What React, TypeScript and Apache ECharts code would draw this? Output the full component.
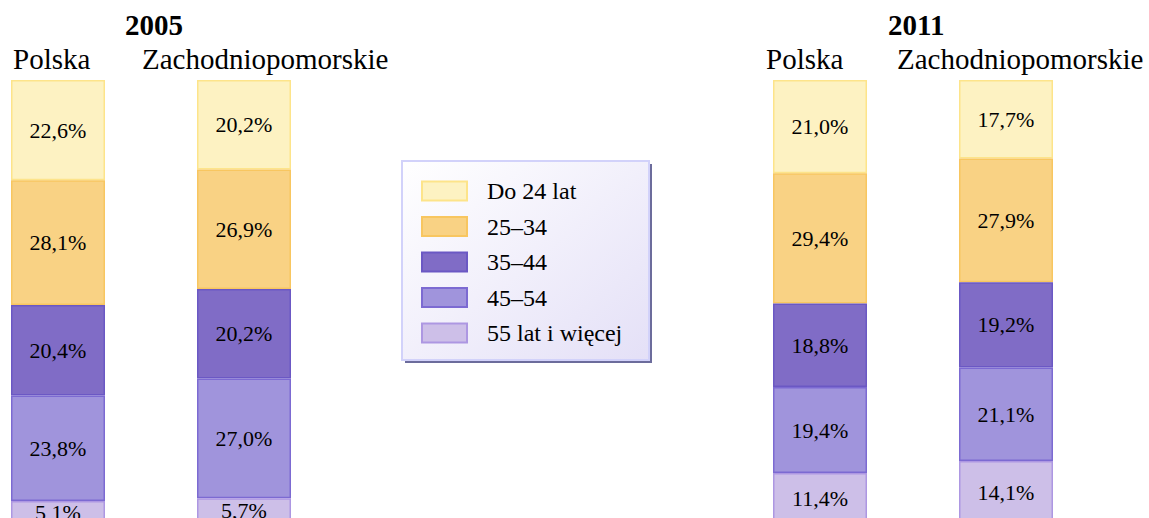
import React, { useEffect, useRef } from "react";
import * as echarts from "echarts";

const groups = ["Do 24 lat", "25–34", "35–44", "45–54", "55 lat i więcej"];
const years = ["2005", "2011"];
const regions = ["Polska", "Zachodniopomorskie"];
const polska2005 = [22.6, 28.1, 20.4, 23.8, 5.1];
const zach2005 = [20.2, 26.9, 20.2, 27.0, 5.7];
const polska2011 = [21.0, 29.4, 18.8, 19.4, 11.4];
const zach2011 = [17.7, 27.9, 19.2, 21.1, 14.1];

const fills = ["#fdf2c2", "#f9d284", "#806cc6", "#a094dc", "#cdbfe8"];
const borders = ["#fde48a", "#f8c660", "#6b58c4", "#7c6ad2", "#ad97e2"];

const FONT = "Liberation Serif, Times New Roman, serif";

export default function App() {
  const ref = useRef<HTMLDivElement>(null);
  useEffect(() => {
    if (!ref.current) return;
    const chart = echarts.init(ref.current, undefined, { renderer: "svg" });
    const bars = [polska2005, zach2005, polska2011, zach2011];
    const lefts = [11, 197, 773, 959];
    const grids = lefts.map((l) => ({ left: l, width: 94, top: 80, bottom: 0.4 }));
    const xAxes = lefts.map((_, i) => ({
      type: "category",
      gridIndex: i,
      data: [regions[i % 2]],
      show: false,
    }));
    const yAxes = lefts.map((_, i) => ({
      type: "value",
      gridIndex: i,
      min: 0,
      max: 100,
      inverse: true,
      show: false,
    }));
    const series: any[] = [];
    bars.forEach((vals, i) => {
      groups.forEach((g, j) => {
        series.push({
          type: "bar",
          name: g,
          xAxisIndex: i,
          yAxisIndex: i,
          stack: "s" + i,
          barWidth: 94,
          data: [vals[j]],
          itemStyle: { color: fills[j], borderColor: borders[j], borderWidth: 1.5 },
          label: {
            show: true,
            position: "inside",
            formatter: (p: any) => String(p.value.toFixed(1)).replace(".", ",") + "%",
            fontFamily: FONT,
            fontSize: 22,
            color: "#000",
          },
        });
      });
    });
    const txt = (s: string, x: number, y: number, bold = false) => ({
      type: "text",
      x,
      y,
      style: {
        text: s,
        fontFamily: FONT,
        fontSize: 29,
        fontWeight: bold ? "bold" : "normal",
        fill: "#000",
        align: "left",
        verticalAlign: "middle",
      },
    });
    chart.setOption({
      animation: false,
      grid: grids,
      xAxis: xAxes,
      yAxis: yAxes,
      series,
      legend: {
        data: groups,
        orient: "vertical",
        left: 421,
        top: 179,
        padding: 0,
        itemWidth: 45,
        itemHeight: 19,
        itemGap: 11.5,
        icon: "rect",
        selectedMode: false,
        z: 10,
        textStyle: {
          fontFamily: FONT,
          fontSize: 24,
          color: "#000",
          padding: [0, 0, 0, 15],
        },
      },
      graphic: [
        {
          type: "rect",
          z: 1,
          shape: { x: 405, y: 164, width: 247, height: 199 },
          style: { fill: "#6c6c9c" },
        },
        {
          type: "rect",
          z: 2,
          shape: { x: 402, y: 161, width: 247, height: 199 },
          style: {
            fill: new echarts.graphic.LinearGradient(0, 0, 1, 1, [
              { offset: 0, color: "#ffffff" },
              { offset: 1, color: "#e4e0f7" },
            ]),
            stroke: "#d2d2fa",
            lineWidth: 2,
          },
        },
        txt(years[0], 125, 25, true),
        txt(regions[0], 13, 59),
        txt(regions[1], 142, 59),
        txt(years[1], 888, 25, true),
        txt(regions[0], 766, 59),
        txt(regions[1], 897, 59),
      ],
    });
    return () => chart.dispose();
  }, []);
  return (
    <div
      ref={ref}
      style={{ position: "fixed", left: 0, top: 0, width: 1149, height: 524, background: "#fff" }}
    />
  );
}
